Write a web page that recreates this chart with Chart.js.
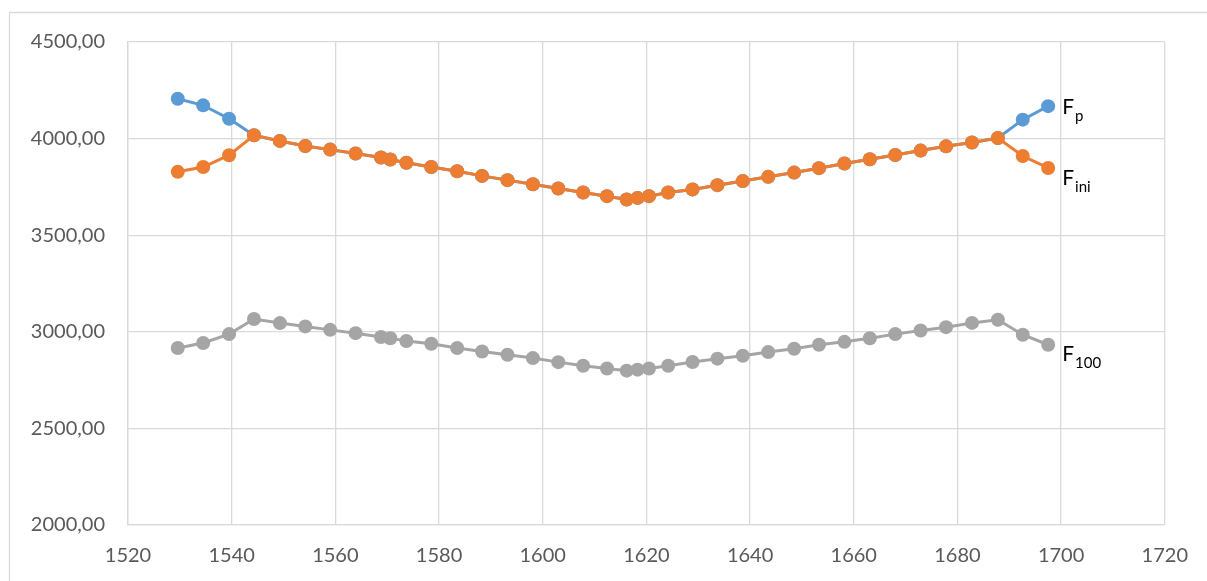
<!DOCTYPE html>
<html>
<head>
<meta charset="utf-8">
<script src="https://cdn.jsdelivr.net/npm/chart.js@4"></script>
<style>
  html, body { margin: 0; padding: 0; background: #fff; }
  #wrap { position: relative; width: 1207px; height: 581px; }
</style>
</head>
<body>
<div id="wrap"><canvas id="forceChart" width="1207" height="581"></canvas></div>
<script>
// abscisses des mesures
const xs = [1529.6, 1534.5, 1539.5, 1544.3, 1549.3, 1554.2, 1559.0, 1563.9, 1568.8, 1570.6,
    1573.7, 1578.5, 1583.5, 1588.3, 1593.2, 1598.1, 1603.0, 1607.8, 1612.4, 1616.2,
    1618.3, 1620.5, 1624.2, 1628.9, 1633.7, 1638.6, 1643.5, 1648.5, 1653.3, 1658.2,
    1663.1, 1668.0, 1672.9, 1677.8, 1682.8, 1687.8, 1692.6, 1697.5];

const fp = [4206, 4172, 4103, 4017, 3988, 3962, 3943, 3923, 3902, 3892,
    3875, 3853, 3831, 3807, 3785, 3764, 3742, 3721, 3702, 3685,
    3693, 3702, 3721, 3737, 3759, 3780, 3802, 3824, 3847, 3871,
    3893, 3915, 3938, 3960, 3980, 4003, 4098, 4168];

const fini = [3828, 3853, 3914, 4017, 3988, 3962, 3943, 3923, 3902, 3892,
    3875, 3853, 3831, 3807, 3785, 3764, 3742, 3721, 3702, 3685,
    3693, 3702, 3721, 3737, 3759, 3780, 3802, 3824, 3847, 3871,
    3893, 3915, 3938, 3960, 3980, 4003, 3910, 3848];

const f100 = [2916, 2942, 2988, 3066, 3045, 3028, 3010, 2993, 2973, 2967,
    2952, 2938, 2916, 2898, 2881, 2864, 2843, 2824, 2810, 2799,
    2804, 2810, 2824, 2844, 2861, 2876, 2895, 2912, 2933, 2948,
    2967, 2988, 3007, 3024, 3046, 3062, 2985, 2933];

const seriesNames = ['F', 'F', 'F'];
const seriesSubs = ['p', 'ini', '100'];

const FONT = 'Lato, "Open Sans", sans-serif';

function pts(ys) {
    return xs.map((x, i) => ({ x: x, y: ys[i] }));
}

function serie(ys, color, order) {
    return {
        data: pts(ys),
        borderColor: color,
        backgroundColor: color,
        borderWidth: 3,
        pointRadius: 7,
        pointBorderWidth: 0,
        pointHoverRadius: 7,
        tension: 0,
        order: order
    };
}

// cadre gris clair du graphique (haut et gauche)
const framePlugin = {
    id: 'frame',
    beforeDraw(chart) {
        const c = chart.ctx;
        c.save();
        c.strokeStyle = '#d9d9d9';
        c.lineWidth = 1.3;
        c.beginPath();
        c.moveTo(9.5, 581);
        c.lineTo(9.5, 12.5);
        c.lineTo(1207, 12.5);
        c.stroke();
        c.restore();
    }
};

// étiquettes F_p, F_ini, F_100 à droite du dernier point
const labelOffsets = [1, 10, 9];
const endLabels = {
    id: 'endLabels',
    afterDatasetsDraw(chart) {
        const c = chart.ctx;
        c.save();
        c.fillStyle = '#000';
        c.textBaseline = 'middle';
        chart.data.datasets.forEach((ds, i) => {
            const meta = chart.getDatasetMeta(i);
            const p = meta.data[meta.data.length - 1];
            const x = p.x + 14;
            const y = p.y + labelOffsets[i];
            c.font = '21px ' + FONT;
            c.fillText(seriesNames[i], x, y);
            const w = c.measureText(seriesNames[i]).width;
            c.font = '15px ' + FONT;
            c.fillText(seriesSubs[i], x + w + 1, y + 9);
        });
        c.restore();
    }
};

document.addEventListener('DOMContentLoaded', function() {
    const ctx = document.getElementById('forceChart').getContext('2d');
    new Chart(ctx, {
        type: 'line',
        data: {
            datasets: [
                serie(fp, '#5B9BD5', 3),
                serie(fini, '#ED7D31', 1),
                serie(f100, '#A5A5A5', 2)
            ]
        },
        options: {
            responsive: false,
            animation: false,
            layout: { padding: { left: 0, top: 42, right: 42, bottom: 0 } },
            plugins: { legend: { display: false }, tooltip: { enabled: false } },
            scales: {
                x: {
                    type: 'linear',
                    min: 1520, max: 1720,
                    afterFit(s) { s.height = 56; },
                    ticks: { stepSize: 20, padding: 19, color: '#595959', font: { family: FONT, size: 20 },
                        callback: v => String(v) },
                    grid: { color: '#d9d9d9', lineWidth: 1.3, drawTicks: false },
                    border: { color: '#d9d9d9', width: 1.3 }
                },
                y: {
                    min: 2000, max: 4500,
                    afterFit(s) { s.width = 128; },
                    ticks: { stepSize: 500, padding: 23, color: '#595959', font: { family: FONT, size: 20 },
                        callback: v => v.toFixed(2).replace('.', ',') },
                    grid: { color: '#d9d9d9', lineWidth: 1.3, drawTicks: false },
                    border: { color: '#d9d9d9', width: 1.3 }
                }
            }
        },
        plugins: [framePlugin, endLabels]
    });
});
</script>
</body>
</html>
